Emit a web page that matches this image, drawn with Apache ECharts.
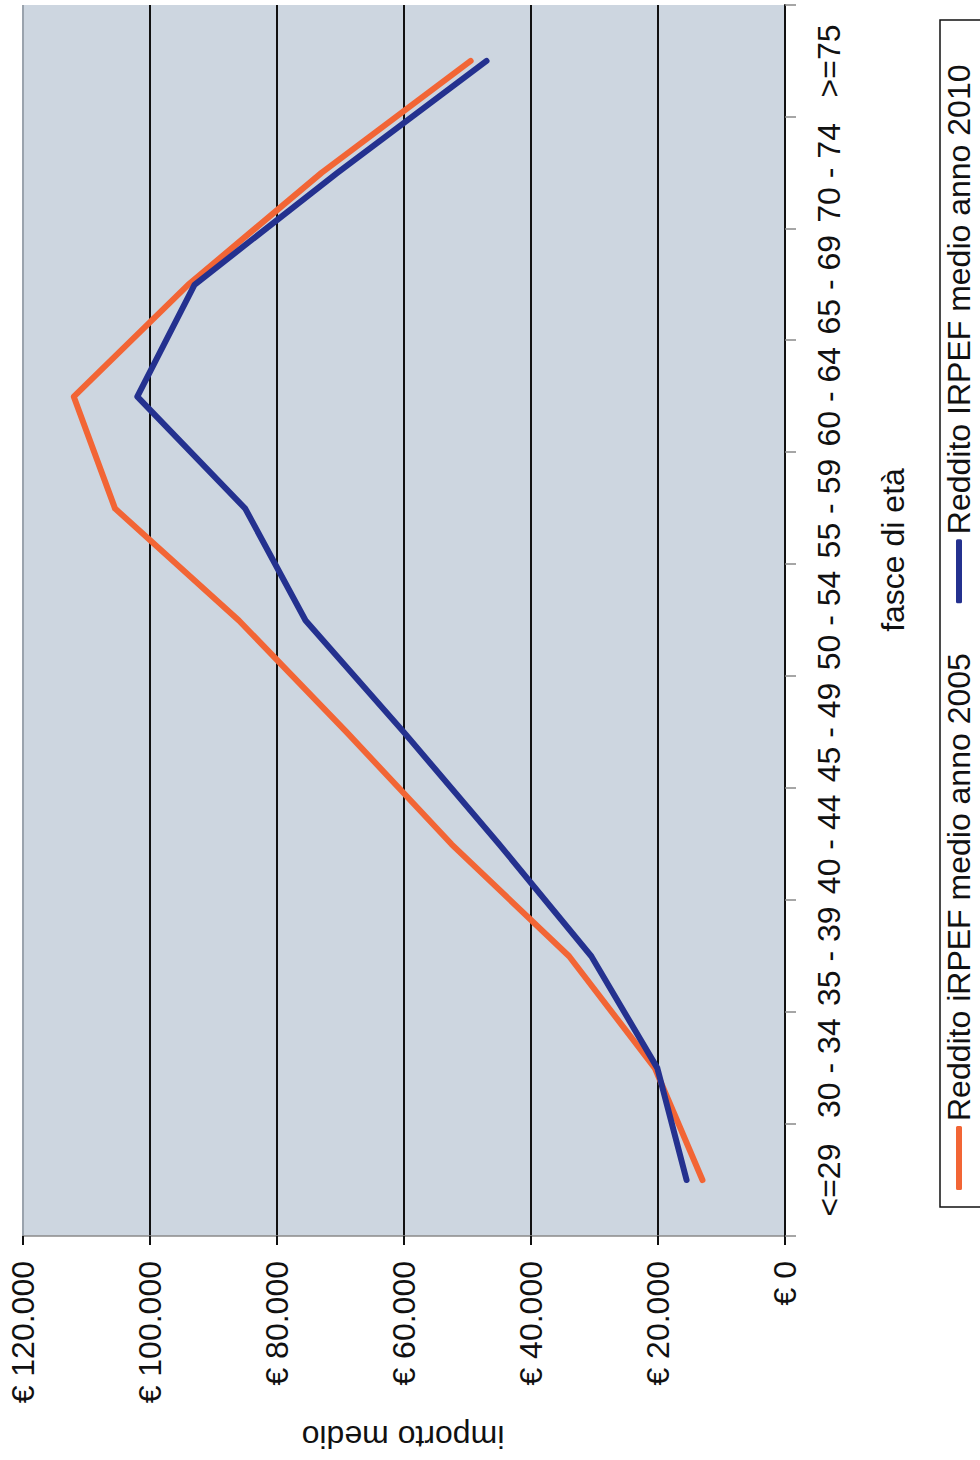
<!DOCTYPE html>
<html>
<head>
<meta charset="utf-8">
<script src="https://cdn.jsdelivr.net/npm/echarts@6/dist/echarts.min.js"></script>
<style>
  html, body { margin: 0; padding: 0; background: #ffffff; overflow: hidden; width: 980px; height: 1460px; }
  #chart {
    position: absolute; left: 0; top: 0;
    width: 1460px; height: 980px;
    transform-origin: 0 0;
    transform: translateY(1460px) rotate(-90deg);
  }
</style>
</head>
<body>
<div id="chart"></div>
<script>
// ---- data ----
const categories = ['<=29', '30 - 34', '35 - 39', '40 - 44', '45 - 49', '50 - 54', '55 - 59', '60 - 64', '65 - 69', '70 - 74', '>=75'];
const reddito2005 = [13000, 20500, 34000, 52500, 69000, 86000, 105500, 112000, 94000, 73000, 49500];
const reddito2010 = [15500, 20100, 30500, 45000, 60000, 75500, 85000, 102000, 93000, 70500, 47000];
const seriesNames = ['Reddito iRPEF medio anno 2005', 'Reddito IRPEF medio anno 2010'];
const valueMin = 0, valueMax = 120000, valueStep = 20000;
const xAxisTitle = 'fasce di età';
const yAxisTitle = 'importo medio';

const FONT = '"Liberation Sans", Arial, Helvetica, sans-serif';
const TXT = '#111111';

function euro(v) {
  return '€ ' + String(v).replace(/\B(?=(\d{3})+(?!\d))/g, '.');
}

const chart = echarts.init(document.getElementById('chart'), null, { renderer: 'svg', width: 1460, height: 980 });

chart.setOption({
  animation: false,
  backgroundColor: '#ffffff',
  textStyle: { fontFamily: FONT, color: TXT },
  grid: {
    left: 224, right: 5, top: 23, bottom: 195,
    show: true, backgroundColor: '#cdd6e0', borderWidth: 0
  },
  legend: {
    data: seriesNames,
    left: 270, top: 943,
    padding: 0,
    itemGap: 50,
    itemWidth: 64, itemHeight: 6,
    icon: 'roundRect',
    textStyle: { fontFamily: FONT, fontSize: 32, color: TXT }
  },
  xAxis: {
    type: 'category',
    data: categories,
    boundaryGap: true,
    axisLine: { show: true, lineStyle: { color: '#111', width: 2 } },
    axisTick: { show: true, interval: 0, length: 11, lineStyle: { color: '#888', width: 1.5 } },
    axisLabel: { interval: 0, fontSize: 32, fontFamily: FONT, color: TXT, margin: 28 },
    splitLine: { show: false }
  },
  yAxis: {
    type: 'value',
    min: valueMin, max: valueMax, interval: valueStep,
    axisLine: { show: true, lineStyle: { color: '#8a8a8a', width: 1.5 } },
    axisTick: { show: true, length: 9, lineStyle: { color: '#111', width: 2 } },
    axisLabel: { fontSize: 32, fontFamily: FONT, color: TXT, margin: 25, formatter: euro },
    splitLine: { show: true, lineStyle: { color: ['#111', '#111', '#111', '#111', '#111', '#111', '#9aa3ad'], width: 2 } }
  },
  series: [
    {
      name: seriesNames[0], type: 'line', data: reddito2005,
      showSymbol: false, symbol: 'none',
      lineStyle: { color: '#f26535', width: 6, cap: 'round', join: 'round' },
      itemStyle: { color: '#f26535' }
    },
    {
      name: seriesNames[1], type: 'line', data: reddito2010,
      showSymbol: false, symbol: 'none',
      lineStyle: { color: '#24318f', width: 6, cap: 'round', join: 'round' },
      itemStyle: { color: '#24318f' }
    }
  ],
  graphic: [
    {
      type: 'rect', silent: true,
      shape: { x: 253, y: 940, width: 1187, height: 80 },
      style: { fill: 'none', stroke: '#111', lineWidth: 1.5 }
    },
    {
      type: 'text', x: 910, y: 893, silent: true,
      style: { text: xAxisTitle, font: '32px ' + FONT, fill: TXT, align: 'center', verticalAlign: 'middle', textAlign: 'center', textVerticalAlign: 'middle' }
    },
    {
      type: 'text', x: 23, y: 403, rotation: Math.PI / 2, silent: true,
      style: { text: yAxisTitle, font: '32px ' + FONT, fill: TXT, align: 'center', verticalAlign: 'middle', textAlign: 'center', textVerticalAlign: 'middle' }
    }
  ]
});
</script>
</body>
</html>
